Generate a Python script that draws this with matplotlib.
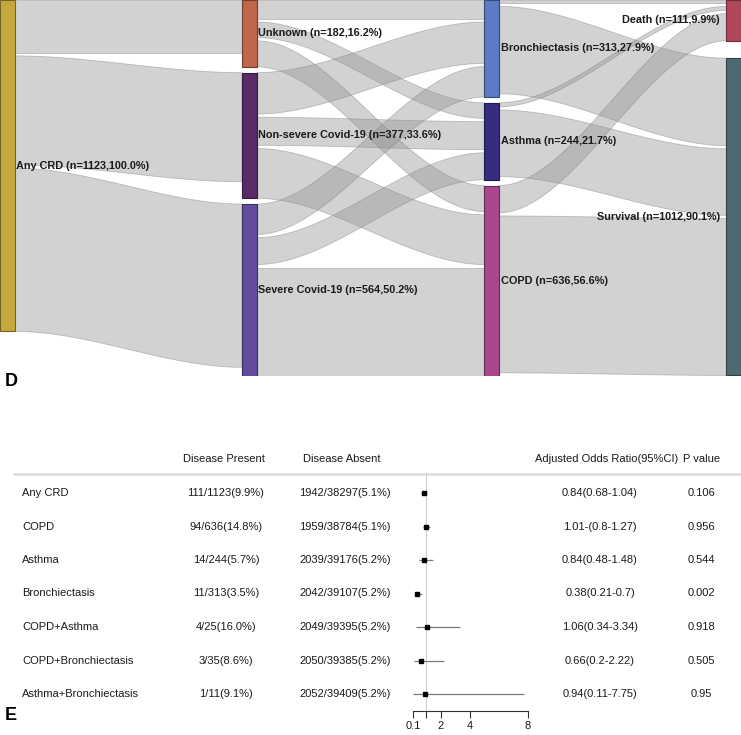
import numpy as np
import matplotlib
matplotlib.use("Agg")
import matplotlib.pyplot as plt

plt.rcParams["font.family"] = ["Liberation Sans", "DejaVu Sans"]

# ---------------- panel D: sankey data ----------------
TOTAL = 1123
STAGE_NODES = [
    ["Any CRD"],
    ["Unknown", "Non-severe Covid-19", "Severe Covid-19"],
    ["Bronchiectasis", "Asthma", "COPD"],
    ["Death", "Survival"],
]
NODE_N = [[1123], [182, 377, 564], [313, 244, 636], [111, 1012]]
NODE_COLORS = [
    ["#C4A83C"],
    ["#C0664A", "#5A2B68", "#654C9B"],
    ["#5C7BC4", "#342D80", "#A8488F"],
    ["#B0485A", "#4D6A70"],
]
# flows between neighbouring stages (rows = source node, cols = target node)
crd_to_covid = np.array([[182, 377, 564]])
covid_to_disease = np.array([[65, 54, 90],
                             [143, 97, 172],
                             [105, 93, 374]])
disease_to_outcome = np.array([[11, 302],
                               [14, 230],
                               [94, 542]])
FLOWS = [crd_to_covid, covid_to_disease, disease_to_outcome]

# ---------------- panel E: forest table data ----------------
rows = ["Any CRD", "COPD", "Asthma", "Bronchiectasis", "COPD+Asthma",
        "COPD+Bronchiectasis", "Asthma+Bronchiectasis"]
present = ["111/1123(9.9%)", "94/636(14.8%)", "14/244(5.7%)", "11/313(3.5%)",
           "4/25(16.0%)", "3/35(8.6%)", "1/11(9.1%)"]
absent = ["1942/38297(5.1%)", "1959/38784(5.1%)", "2039/39176(5.2%)", "2042/39107(5.2%)",
          "2049/39395(5.2%)", "2050/39385(5.2%)", "2052/39409(5.2%)"]
odds = [0.84, 1.01, 0.84, 0.38, 1.06, 0.66, 0.94]
ci_lo = [0.68, 0.8, 0.48, 0.21, 0.34, 0.2, 0.11]
ci_hi = [1.04, 1.27, 1.48, 0.7, 3.34, 2.22, 7.75]
or_text = ["0.84(0.68-1.04)", "1.01-(0.8-1.27)", "0.84(0.48-1.48)", "0.38(0.21-0.7)",
           "1.06(0.34-3.34)", "0.66(0.2-2.22)", "0.94(0.11-7.75)"]
pvals = ["0.106", "0.956", "0.544", "0.002", "0.918", "0.505", "0.95"]
xticks = [0.1, 1, 2, 4, 8]
xtick_labels = ["0.1", "", "2", "4", "8"]

W_PX, H_PX = 741, 735
fig = plt.figure(figsize=(W_PX / 100, H_PX / 100), dpi=100)

# text layer in pixel coordinates
ax_t = fig.add_axes([0, 0, 1, 1])
ax_t.set_xlim(0, W_PX)
ax_t.set_ylim(H_PX, 0)
ax_t.axis("off")

# ---------------- sankey layout ----------------
FLOW_GAP = 11               # counts between flows sharing a node
NODE_GAPS = [20, 20, 20, 60]  # counts between nodes, per stage
NODE_W = 0.06


def side_height(vals):
    return vals.sum() + (len(vals) - 1) * FLOW_GAP


tops, heights = [], []
for s, names in enumerate(STAGE_NODES):
    y = 0.0
    t_s, h_s = [], []
    for j in range(len(names)):
        h = 0.0
        if s > 0:
            h = max(h, side_height(FLOWS[s - 1][:, j]))
        if s < len(FLOWS):
            h = max(h, side_height(FLOWS[s][j, :]))
        t_s.append(y)
        h_s.append(h)
        y += h + NODE_GAPS[s]
    tops.append(t_s)
    heights.append(h_s)
ymax = max(tops[s][-1] + heights[s][-1] for s in range(len(STAGE_NODES)))

ax_s = fig.add_axes([0, 1 - 376 / H_PX, 1, 376 / H_PX])
ax_s.set_xlim(0, len(STAGE_NODES) - 1 + NODE_W)
ax_s.set_ylim(ymax, 0)
ax_s.axis("off")

t = np.linspace(0, 1, 80)
ease = 3 * t ** 2 - 2 * t ** 3
for s, M in enumerate(FLOWS):
    n_src, n_dst = M.shape
    src_pos = [tops[s][i] for i in range(n_src)]
    dst_pos = [tops[s + 1][j] for j in range(n_dst)]
    slots = {}
    for i in range(n_src):
        for j in range(n_dst):
            slots[(i, j)] = [src_pos[i], None]
            src_pos[i] += M[i, j] + FLOW_GAP
    for j in range(n_dst):
        for i in range(n_src):
            slots[(i, j)][1] = dst_pos[j]
            dst_pos[j] += M[i, j] + FLOW_GAP
    x0, x1 = s + NODE_W, s + 1
    xs = x0 + (x1 - x0) * t
    for (i, j), (y0, y1) in slots.items():
        f = M[i, j]
        top = y0 + (y1 - y0) * ease
        bot = top + f
        ax_s.fill(np.r_[xs, xs[::-1]], np.r_[top, bot[::-1]],
                  facecolor=(0.58, 0.58, 0.58, 0.42),
                  edgecolor=(0.5, 0.5, 0.5, 0.45), lw=0.6, zorder=1)

last = len(STAGE_NODES) - 1
for s, names in enumerate(STAGE_NODES):
    for j, name in enumerate(names):
        col = NODE_COLORS[s][j]
        rgb = np.array(matplotlib.colors.to_rgb(col))
        ax_s.bar(s, heights[s][j], width=NODE_W, bottom=tops[s][j], align="edge",
                 color=col, edgecolor=rgb * 0.6, lw=0.8, zorder=3)
        n = NODE_N[s][j]
        label = f"{name} (n={n},{100 * n / TOTAL:.1f}%)"
        yc = tops[s][j] + heights[s][j] / 2
        if s < last:
            ax_s.text(s + NODE_W + 0.007, yc, label, ha="left", va="center",
                      fontsize=7.8, fontweight="bold", color="#1a1a1a", zorder=4)
        else:
            ax_s.text(s - 0.028, yc, label, ha="right", va="center",
                      fontsize=7.8, fontweight="bold", color="#1a1a1a", zorder=4)

ax_t.text(5, 381, "D", fontsize=13, fontweight="bold", ha="left", va="center")
ax_t.text(5, 716, "E", fontsize=13, fontweight="bold", ha="left", va="center")

# ---------------- forest table ----------------
Y0, DY = 493, 33.5
HEAD_Y = 459
txt = dict(fontsize=8, color="#1a1a1a", va="center")
ax_t.text(224, HEAD_Y, "Disease Present", ha="center", **txt)
ax_t.text(342, HEAD_Y, "Disease Absent", ha="center", **txt)
ax_t.text(607, HEAD_Y, "Adjusted Odds Ratio(95%CI)", ha="center", **txt)
ax_t.text(702, HEAD_Y, "P value", ha="center", **txt)
ax_t.plot([13, W_PX], [473.5, 473.5], color="#DCDCDC", lw=1.8, solid_capstyle="butt")

for i, name in enumerate(rows):
    y = Y0 + DY * i
    ax_t.text(22, y, name, ha="left", **txt)
    ax_t.text(226, y, present[i], ha="center", **txt)
    ax_t.text(345, y, absent[i], ha="center", **txt)
    ax_t.text(600, y, or_text[i], ha="center", **txt)
    ax_t.text(701, y, pvals[i], ha="center", **txt)

# forest axis: 0.1 at 413px, 8 at 528px; rows between header line (473) and axis (711)
fx0, fx1 = 413, 528
fy_top, fy_bot = 473, 711
ax_f = fig.add_axes([fx0 / W_PX, (H_PX - fy_bot) / H_PX,
                     (fx1 - fx0) / W_PX, (fy_bot - fy_top) / H_PX])
ax_f.patch.set_alpha(0)
ax_f.set_xlim(0.1, 8)
ax_f.set_ylim((fy_bot - Y0) / DY, (fy_top - Y0) / DY)
ypos = np.arange(len(rows))
ax_f.axvline(1, color="#CFCFCF", lw=0.8, zorder=1)
ax_f.hlines(ypos, ci_lo, ci_hi, color="#7A7A7A", lw=0.9, zorder=2)
ax_f.plot(odds, ypos, "s", color="black", markersize=3.2, zorder=3)
for sp in ["top", "left", "right"]:
    ax_f.spines[sp].set_visible(False)
ax_f.spines["bottom"].set_color("#333333")
ax_f.spines["bottom"].set_linewidth(0.8)
ax_f.set_yticks([])
ax_f.set_xticks(xticks)
ax_f.set_xticklabels(xtick_labels)
ax_f.tick_params(axis="x", direction="out", length=5, width=0.8, color="#333333",
                 labelsize=8, labelcolor="#1a1a1a", pad=2)

fig.savefig("out.png", dpi=100)
